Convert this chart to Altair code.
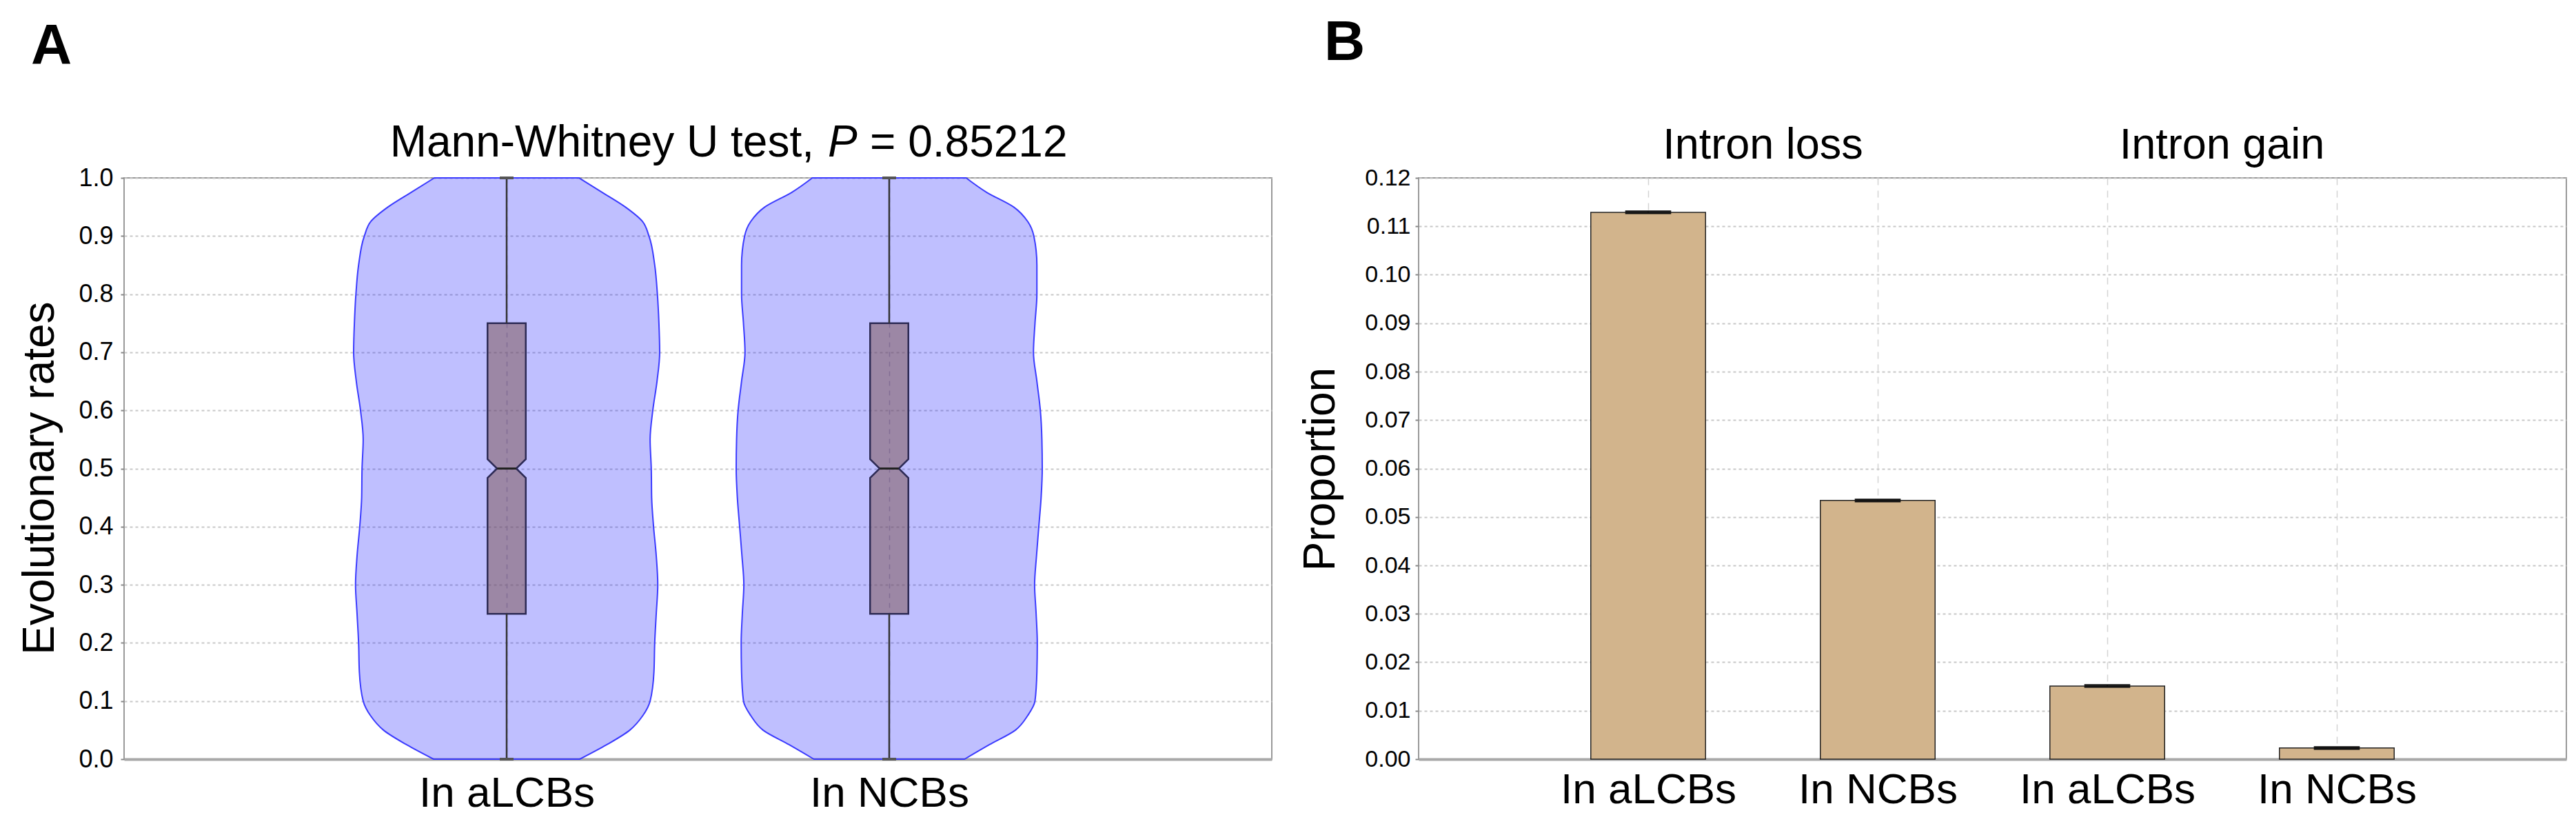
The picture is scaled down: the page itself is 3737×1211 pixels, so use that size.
import altair as alt
import pandas as pd

# ---------------- Panel A data ----------------
a_categories = ["In aLCBs", "In NCBs"]
a_positions = [1, 2]
violin_levels = [0.0, 0.025, 0.05, 0.075, 0.1, 0.15, 0.2, 0.25, 0.3, 0.35, 0.4, 0.45,
                 0.5, 0.55, 0.6, 0.65, 0.7, 0.75, 0.8, 0.85, 0.9, 0.925, 0.95, 0.975, 1.0]
violin1_halfwidth = [0.191, 0.262, 0.322, 0.356, 0.375, 0.385, 0.387, 0.391, 0.395, 0.391,
                     0.384, 0.379, 0.378, 0.375, 0.382, 0.393, 0.400, 0.398, 0.394, 0.387,
                     0.372, 0.355, 0.310, 0.250, 0.189]
violin2_halfwidth = [0.197, 0.262, 0.330, 0.362, 0.381, 0.386, 0.387, 0.384, 0.380, 0.385,
                     0.391, 0.397, 0.400, 0.399, 0.395, 0.386, 0.377, 0.381, 0.386, 0.386,
                     0.378, 0.362, 0.325, 0.255, 0.201]
q1 = [0.25, 0.25]
median = [0.5, 0.5]
q3 = [0.75, 0.75]
notch_lo = [0.484, 0.484]
notch_hi = [0.516, 0.516]
whisker_lo = [0.0, 0.0]
whisker_hi = [1.0, 1.0]
a_title_parts = ["Mann-Whitney U test,", "P", "= 0.85212"]
a_title_italic = [False, True, False]

# ---------------- Panel B data ----------------
b_categories = ["In aLCBs", "In NCBs", "In aLCBs", "In NCBs"]
b_groups = ["Intron loss", "Intron loss", "Intron gain", "Intron gain"]
b_positions = [1, 2, 3, 4]
b_values = [0.1129, 0.0534, 0.0151, 0.0023]
b_errors = [0.0002, 0.0002, 0.0002, 0.0002]

FONT = "Liberation Sans"
W, H = 1665, 843

# ---------------- tables ----------------
vrows = []
for cat, pos, hws in zip(a_categories, a_positions, [violin1_halfwidth, violin2_halfwidth]):
    for lv, hw in zip(violin_levels, hws):
        vrows.append({"cat": cat, "pos": pos, "level": lv, "hw": hw})
violin_df = pd.DataFrame(vrows)

BOX_HW = 0.05
brows = []
for cat, pos, a, nl, m, nh, b in zip(a_categories, a_positions, q1, notch_lo, median, notch_hi, q3):
    for lv, f in [(a, 1.0), (nl, 1.0), (m, 0.5), (nh, 1.0), (b, 1.0)]:
        brows.append({"cat": cat, "pos": pos, "level": lv, "hw": BOX_HW * f})
box_df = pd.DataFrame(brows)

stat_df = pd.DataFrame({"cat": a_categories, "pos": a_positions, "q1": q1, "median": median,
                        "q3": q3, "wlo": whisker_lo, "whi": whisker_hi})

bar_df = pd.DataFrame({"cat": b_categories, "group": b_groups, "pos": b_positions,
                       "value": b_values, "err": b_errors})
grp_names = list(dict.fromkeys(b_groups))
grp_df = pd.DataFrame({"group": grp_names,
                       "center": [sum(p for p, g in zip(b_positions, b_groups) if g == n) /
                                  sum(1 for g in b_groups if g == n) for n in grp_names]})

def label_expr(positions, names):
    parts = " : ".join(f"datum.value == {p} ? '{n}'" for p, n in zip(positions, names))
    return parts + " : ''"

# ---------------- Panel A ----------------
xA = alt.X("xl:Q", scale=alt.Scale(domain=[0, len(a_categories) + 1], nice=False, zero=False),
           axis=alt.Axis(values=a_positions, labelExpr=label_expr(a_positions, a_categories),
                         title=None, ticks=False, labelPadding=19, labelFontSize=62,
                         labelFont=FONT, labelColor="black", labelAngle=0, labelLimit=0,
                         domainColor="#a8a8a8", domainWidth=4,
                         grid=True, gridColor="#b8b8d0", gridDash=[7, 7], gridWidth=1.5))
yA_scale = alt.Scale(domain=[0, 1], nice=False, zero=False)
yA_axis = alt.Axis(values=[i / 10 for i in range(11)], format=".1f", title="Evolutionary rates",
                   titleFont=FONT, titleFontSize=64, titleFontWeight="normal", titleColor="black",
                   titleAngle=270, titleAlign="center", titleBaseline="middle",
                   titleX=-122, titleY=435,
                   labelFont=FONT, labelFontSize=36, labelColor="black", labelPadding=11,
                   tickColor="#888888", tickSize=5, tickWidth=2, domain=False,
                   grid=True, gridColor="#c8c8c8", gridDash=[4, 4], gridWidth=2)

violin = alt.Chart(violin_df).mark_area(
    orient="horizontal", interpolate="monotone", fill="#0000ff", fillOpacity=0.25,
    stroke="#3b3bff", strokeWidth=2
).transform_calculate(xl="datum.pos - datum.hw", xr="datum.pos + datum.hw").encode(
    y=alt.Y("level:Q", scale=yA_scale, axis=yA_axis),
    x=xA, x2="xr:Q", detail="cat:N")

box = alt.Chart(box_df).mark_area(
    orient="horizontal", interpolate="linear", fill="#7a4f4b", fillOpacity=0.5,
    stroke="#2d2a55", strokeWidth=2.5
).transform_calculate(xl="datum.pos - datum.hw", xr="datum.pos + datum.hw").encode(
    y="level:Q", x="xl:Q", x2="xr:Q", detail="cat:N")

med = alt.Chart(stat_df).mark_rule(color="#222222", strokeWidth=3).transform_calculate(
    xl="datum.pos - 0.025", xr="datum.pos + 0.025").encode(x="xl:Q", x2="xr:Q", y="median:Q")

wlow = alt.Chart(stat_df).mark_rule(color="#333333", strokeWidth=2.5).encode(
    x="pos:Q", y="wlo:Q", y2="q1:Q")
whigh = alt.Chart(stat_df).mark_rule(color="#333333", strokeWidth=2.5).encode(
    x="pos:Q", y="q3:Q", y2="whi:Q")
caps_df = pd.DataFrame({"pos": a_positions * 2, "v": whisker_lo + whisker_hi})
caps = alt.Chart(caps_df).mark_rule(color="#555555", strokeWidth=4).transform_calculate(
    xl="datum.pos - 0.018", xr="datum.pos + 0.018").encode(x="xl:Q", x2="xr:Q", y="v:Q")

title_df = pd.DataFrame({"t": a_title_parts, "italic": a_title_italic,
                         "xp": [1001, 1021, 1082], "al": ["right", "left", "left"]})
ttl_base = alt.Chart(title_df)
ttl_first = ttl_base.transform_filter("datum.al == 'right'").mark_text(
    font=FONT, fontSize=64, align="right", baseline="alphabetic", color="black").encode(
    text="t:N", x=alt.X("xp:Q", scale=None), y=alt.value(-31))
ttl_norm = ttl_base.transform_filter("!datum.italic && datum.al == 'left'").mark_text(
    font=FONT, fontSize=64, align="left", baseline="alphabetic", color="black").encode(
    text="t:N", x=alt.X("xp:Q", scale=None), y=alt.value(-31))
ttl_ital = ttl_base.transform_filter("datum.italic").mark_text(
    font=FONT, fontSize=64, fontStyle="italic", align="left", baseline="alphabetic",
    color="black").encode(text="t:N", x=alt.X("xp:Q", scale=None), y=alt.value(-31))

labA = alt.Chart(pd.DataFrame({"t": ["A"]})).mark_text(
    font=FONT, fontSize=82, fontWeight="bold", align="left", baseline="alphabetic",
    color="black").encode(text="t:N", x=alt.value(-135), y=alt.value(-166))

chartA = alt.layer(violin, box, wlow, whigh, caps, med, ttl_first, ttl_norm, ttl_ital, labA).properties(
    width=W, height=H)

# ---------------- Panel B ----------------
xB = alt.X("xl:Q", scale=alt.Scale(domain=[0, len(b_categories) + 1], nice=False, zero=False),
           axis=alt.Axis(values=b_positions, labelExpr=label_expr(b_positions, b_categories),
                         title=None, ticks=False, labelPadding=14, labelFontSize=62,
                         labelFont=FONT, labelColor="black", labelAngle=0, labelLimit=0,
                         domainColor="#a8a8a8", domainWidth=4,
                         grid=True, gridColor="#d4d4d4", gridDash=[10, 8], gridWidth=1.5))
yB_scale = alt.Scale(domain=[0, 0.12], nice=False, zero=True)
yB_axis = alt.Axis(values=[i / 100 for i in range(13)], format=".2f", title="Proportion",
                   titleFont=FONT, titleFontSize=64, titleFontWeight="normal", titleColor="black",
                   titleAngle=270, titleAlign="center", titleBaseline="middle",
                   titleX=-142, titleY=422,
                   labelFont=FONT, labelFontSize=34, labelColor="black", labelPadding=7,
                   tickColor="#888888", tickSize=5, tickWidth=2, domain=False,
                   grid=True, gridColor="#c8c8c8", gridDash=[4, 4], gridWidth=2)

bars = alt.Chart(bar_df).mark_bar(fill="#d2b48c", stroke="#222222", strokeWidth=1.5).transform_calculate(
    xl="datum.pos - 0.25", xr="datum.pos + 0.25", zero="0").encode(
    x=xB, x2="xr:Q", y=alt.Y("value:Q", scale=yB_scale, axis=yB_axis), y2="zero:Q")

err = alt.Chart(bar_df).transform_calculate(
    lo="datum.value - datum.err", hi="datum.value + datum.err",
    cl="datum.pos - 0.1", cr="datum.pos + 0.1")
err_rule = err.mark_rule(color="#111111", strokeWidth=2).encode(x="pos:Q", y="lo:Q", y2="hi:Q")
err_top = err.mark_rule(color="#111111", strokeWidth=2.5).encode(x="cl:Q", x2="cr:Q", y="hi:Q")
err_bot = err.mark_rule(color="#111111", strokeWidth=2.5).encode(x="cl:Q", x2="cr:Q", y="lo:Q")

grp_text = alt.Chart(grp_df).mark_text(font=FONT, fontSize=63, align="center",
                                       baseline="alphabetic", color="black").encode(
    text="group:N", x="center:Q", y=alt.value(-28))

labB = alt.Chart(pd.DataFrame({"t": ["B"]})).mark_text(
    font=FONT, fontSize=82, fontWeight="bold", align="left", baseline="alphabetic",
    color="black").encode(text="t:N", x=alt.value(-137), y=alt.value(-171))

chartB = alt.layer(bars, err_rule, err_top, err_bot, grp_text, labB).properties(width=W, height=H)

chart = alt.hconcat(chartA, chartB, spacing=37).properties(
    padding={"left": 17, "top": 12, "right": 5, "bottom": 5}, background="white"
).configure_view(stroke="#999999", strokeWidth=2)

chart.save("out.html", embed_options={"renderer": "svg", "actions": False})
